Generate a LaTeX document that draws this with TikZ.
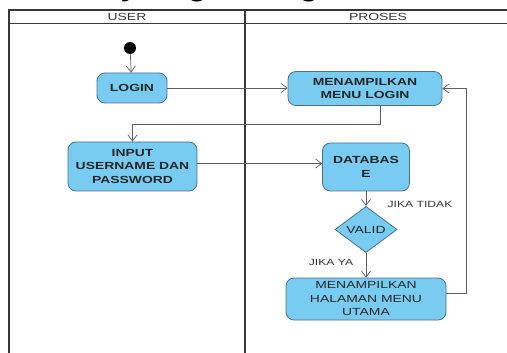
\documentclass[tikz,border=0pt]{standalone}
\usepackage{fontspec}
\setmainfont[FakeStretch=1.35]{Liberation Sans}
\usetikzlibrary{arrows.meta,shapes.geometric}

\definecolor{actfill}{RGB}{120,204,242}
\definecolor{actline}{RGB}{80,112,135}
\definecolor{flowgray}{RGB}{95,95,95}
\definecolor{frameline}{RGB}{55,55,55}

\tikzset{
  act/.style={draw=actline, fill=actfill, rounded corners=8pt, line width=0.8pt,
    align=center, inner sep=0pt, text=black!85,
    font=\bfseries\fontsize{10.3}{13.5}\selectfont},
  actplain/.style={act, font=\fontsize{10.3}{13.5}\selectfont},
  decision/.style={diamond, draw=actline, fill=actfill, line width=0.8pt,
    inner sep=0pt, text=black!85, font=\fontsize{10.3}{12}\selectfont},
  flow/.style={draw=flowgray, line width=0.7pt,
    -{Straight Barb[length=6pt,width=9pt,line width=0.7pt]}},
  frame/.style={draw=frameline, line width=1.3pt},
  lanehead/.style={font=\fontsize{10.3}{12}\selectfont, text=black!80, inner sep=0pt},
  guard/.style={font=\fontsize{9}{11}\selectfont, text=black!80, inner sep=0pt},
}

\begin{document}
\begin{tikzpicture}[x=1pt,y=-1pt]
  \useasboundingbox (0,0) rectangle (507,353);
  \clip (0,0) rectangle (507,353);

  % title (only its lower edge falls inside the page)
  \node[anchor=base west, inner sep=0pt, font=\bfseries\fontsize{21}{21}\selectfont]
    (title) at (34,-2) {Activity Diagram Login};

  % swimlane frame
  \draw[frame] (9,353) -- (9,10) -- (507,10);
  \draw[frame, line width=1pt] (9,23.5) -- (507,23.5);
  \draw[frame, line width=2pt] (245,10) -- (245,353);
  \node[lanehead] (huser) at (127,17) {USER};
  \node[lanehead] (hproses) at (378,17) {PROSES};

  % activities
  \node[circle, fill=black, minimum size=12pt, inner sep=0pt] (start) at (130,48) {};
  \node[act, minimum width=70pt, minimum height=30pt] (login) at (132,88) {LOGIN};
  \node[act, minimum width=154pt, minimum height=34pt] (menulogin) at (365,88.5)
    {MENAMPILKAN\\MENU LOGIN};
  \node[act, minimum width=129pt, minimum height=49pt] (input) at (132.5,166.5)
    {INPUT\\USERNAME DAN\\PASSWORD};
  \node[act, minimum width=87pt, minimum height=48pt] (database) at (366,167)
    {DATABAS\\E};
  \node[decision, minimum width=62pt, minimum height=41pt] (valid) at (366,229.5) {VALID};
  \node[actplain, minimum width=160pt, minimum height=42pt] (utama) at (366,299)
    {MENAMPILKAN\\HALAMAN MENU\\UTAMA};

  % guard labels
  \node[guard] (tidak) at (420,204) {JIKA TIDAK};
  \node[guard] (ya) at (331,262) {JIKA YA};

  % control flow
  \coordinate (bend) at (380,124);
  \coordinate (loopx) at (466,0);
  \draw[flow] (start) -- (login);
  \draw[flow] (login.east) -- (login.east -| menulogin.west);
  \draw[flow] (menulogin.south -| bend) -- (bend) -| (input.north);
  \draw[flow] ([yshift=3pt]input.east) -- ([yshift=3pt]input.east -| database.west);
  \draw[flow] (database) -- (valid);
  \draw[flow] (valid) -- (utama);
  \draw[flow] ([yshift=6pt]utama.east) -- ([yshift=6pt]utama.east -| loopx)
    |- (menulogin.east);
\end{tikzpicture}
\end{document}
